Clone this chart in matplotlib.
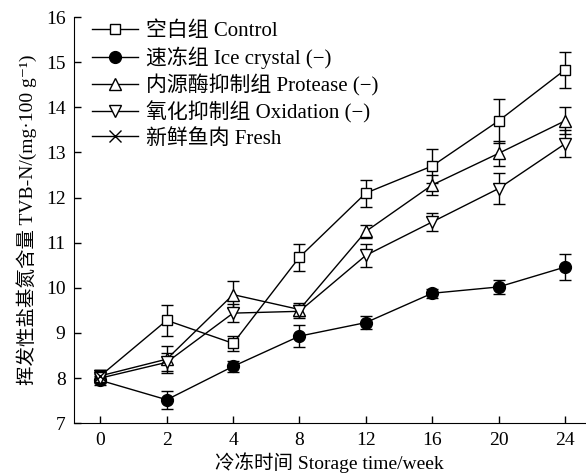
import matplotlib.pyplot as plt
import numpy as np

plt.rcParams['font.family'] = ['Liberation Serif', 'Noto Sans CJK SC', 'DejaVu Sans']

weeks = ['0', '2', '4', '8', '12', '16', '20', '24']

control = [8.05, 9.28, 8.77, 10.68, 12.10, 12.70, 13.70, 14.83]
control_err = [0.12, 0.35, 0.16, 0.30, 0.30, 0.38, 0.48, 0.40]

ice = [7.95, 7.52, 8.26, 8.93, 9.23, 9.88, 10.02, 10.46]
ice_err = [0.10, 0.20, 0.13, 0.25, 0.15, 0.10, 0.16, 0.28]

protease = [8.05, 8.42, 9.85, 9.52, 11.25, 12.28, 12.98, 13.70]
protease_err = [0.12, 0.30, 0.30, 0.15, 0.15, 0.22, 0.28, 0.30]

oxidation = [8.00, 8.35, 9.44, 9.48, 10.72, 11.46, 12.20, 13.19]
oxidation_err = [0.10, 0.20, 0.20, 0.15, 0.25, 0.20, 0.35, 0.30]

fresh = [8.05]
fresh_err = [0.12]

x = np.arange(len(weeks))

fig = plt.figure(figsize=(5.86, 4.75), dpi=100)
ax = fig.add_axes([0.126, 0.109, 0.872, 0.855])

kw = dict(color='black', lw=1.0, elinewidth=1.0, capsize=4, capthick=1.0,
          markeredgewidth=1.0, markeredgecolor='black')
ax.errorbar(x, control, yerr=control_err, marker='s', ms=7, mfc='white',
            label='空白组 Control', **kw)
ax.errorbar(x, ice, yerr=ice_err, marker='o', ms=8.5, mfc='black',
            label='速冻组 Ice crystal (−)', **kw)
ax.errorbar(x, protease, yerr=protease_err, marker='^', ms=9, mfc='white',
            label='内源酶抑制组 Protease (−)', **kw)
ax.errorbar(x, oxidation, yerr=oxidation_err, marker='v', ms=9, mfc='white',
            label='氧化抑制组 Oxidation (−)', **kw)
ax.errorbar(x[:1], fresh, yerr=fresh_err, marker='x', ms=9,
            label='新鲜鱼肉 Fresh', **kw)

ax.set_xlim(-0.4, 7.3)
ax.set_ylim(7, 16)
ax.set_xticks(x)
ax.set_xticklabels(weeks)
ax.set_yticks(range(7, 17))
ax.spines['top'].set_visible(False)
ax.spines['right'].set_visible(False)
ax.tick_params(direction='in', labelsize=14, length=5, width=1, pad=6)
ax.set_xlabel('冷冻时间 Storage time/week', fontsize=14, labelpad=3)
ax.set_ylabel('挥发性盐基氮含量 TVB-N/(mg·100 g⁻¹)', fontsize=14, labelpad=6)

handles, labels = ax.get_legend_handles_labels()
handles = [h[0] for h in handles]
ax.legend(handles, labels, loc='upper left', bbox_to_anchor=(0.012, 1.02),
          frameon=False, fontsize=15, handlelength=2.2, handletextpad=0.35,
          labelspacing=0.25, borderaxespad=0.2)

fig.savefig('out.png', dpi=100)
